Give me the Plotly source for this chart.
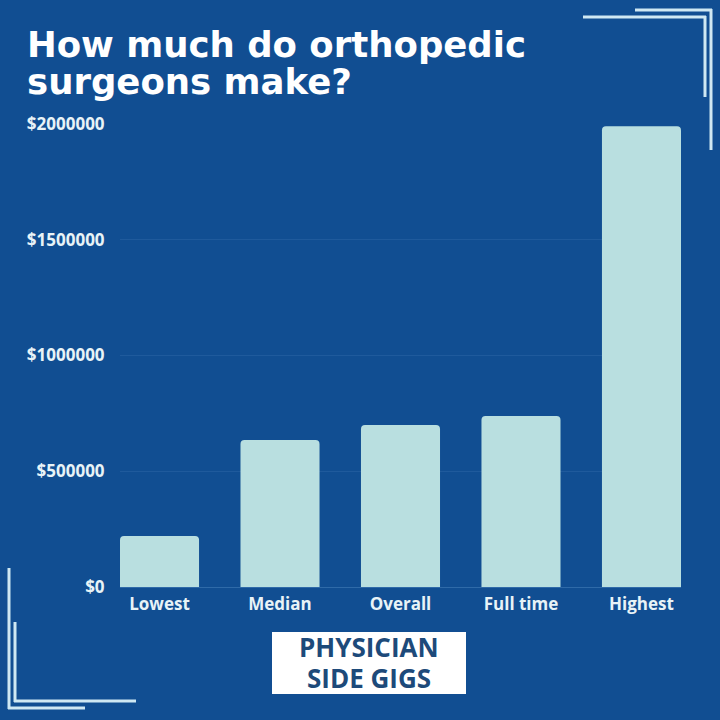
import plotly.graph_objects as go

categories = ['Lowest', 'Median', 'Overall', 'Full time', 'Highest']
earnings = [220000, 635000, 700000, 739000, 1990000]
tick_values = [0, 500000, 1000000, 1500000, 2000000]
tick_labels = ['$0', '$500000', '$1000000', '$1500000', '$2000000']
title_lines = ['How much do orthopedic', 'surgeons make?']
logo_lines = ['PHYSICIAN', 'SIDE GIGS']

BG = '#114e92'
BAR = '#b9dfe0'
LINE = '#cfe8f3'
SIZE = 720


def px(x):
    return x / SIZE


def py(y):
    return 1 - y / SIZE


def corner_line(x0, y0, x1, y1, color=LINE, width=3):
    return dict(type='line', xref='paper', yref='paper',
                x0=px(x0), y0=py(y0), x1=px(x1), y1=py(y1),
                line=dict(color=color, width=width))


def text_at(text, x, y, anchor, font):
    return dict(text=text, xref='paper', yref='paper', x=px(x), y=py(y),
                xanchor=anchor, yanchor='middle', showarrow=False, font=font)


fig = go.Figure(go.Bar(
    x=categories, y=earnings,
    marker=dict(color=BAR, cornerradius=4, line=dict(width=0)),
))

shapes = [
    # top right corner
    corner_line(635, 10, 712, 10),
    corner_line(711, 9, 711, 150),
    corner_line(583, 17, 706, 17),
    corner_line(705, 16, 705, 97),
    # bottom left corner
    corner_line(9, 568, 9, 709),
    corner_line(15, 622, 15, 702),
    corner_line(8, 708, 85, 708),
    corner_line(14, 701, 136, 701),
    # logo box
    dict(type='rect', xref='paper', yref='paper',
         x0=px(272), y0=py(632), x1=px(466), y1=py(694),
         fillcolor='white', line=dict(width=0)),
]

title_font = dict(family='DejaVu Sans', size=35.5, color='white', weight=700)
logo_font = dict(family='Open Sans', size=26, color='#1d4a7a', weight=700)

fig.update_layout(
    width=SIZE, height=SIZE,
    paper_bgcolor=BG, plot_bgcolor=BG,
    margin=dict(l=0, r=0, t=0, b=0, autoexpand=False),
    bargap=0.344,
    showlegend=False,
    font=dict(family='Open Sans', color='#e8f3f7', size=14),
    xaxis=dict(
        domain=[px(120), px(681)],
        range=[-0.328, 4.328],
        tickfont=dict(family='Open Sans', size=17, color='#e8f3f7', weight=700),
        ticks='outside', ticklen=2, tickcolor='rgba(0,0,0,0)',
        showline=False, showgrid=False,
    ),
    yaxis=dict(
        domain=[py(587), py(124)],
        range=[0, 2000000],
        tickvals=tick_values, ticktext=tick_labels,
        tickfont=dict(family='Open Sans', size=17, color='#e8f3f7', weight=700),
        gridcolor='#1f5a9c', gridwidth=1,
        zeroline=True, zerolinecolor='#2f6aa8', zerolinewidth=1,
        ticks='outside', ticklen=11, tickcolor='rgba(0,0,0,0)',
    ),
    shapes=shapes,
    annotations=[
        text_at(title_lines[0], 25, 44, 'left', title_font),
        text_at(title_lines[1], 25, 81, 'left', title_font),
        text_at(logo_lines[0], 369, 647, 'center', logo_font),
        text_at(logo_lines[1], 369, 678, 'center', logo_font),
    ],
)

fig.write_html('out.html', post_script="document.body.style.margin='0';",
               config=dict(displayModeBar=False))
